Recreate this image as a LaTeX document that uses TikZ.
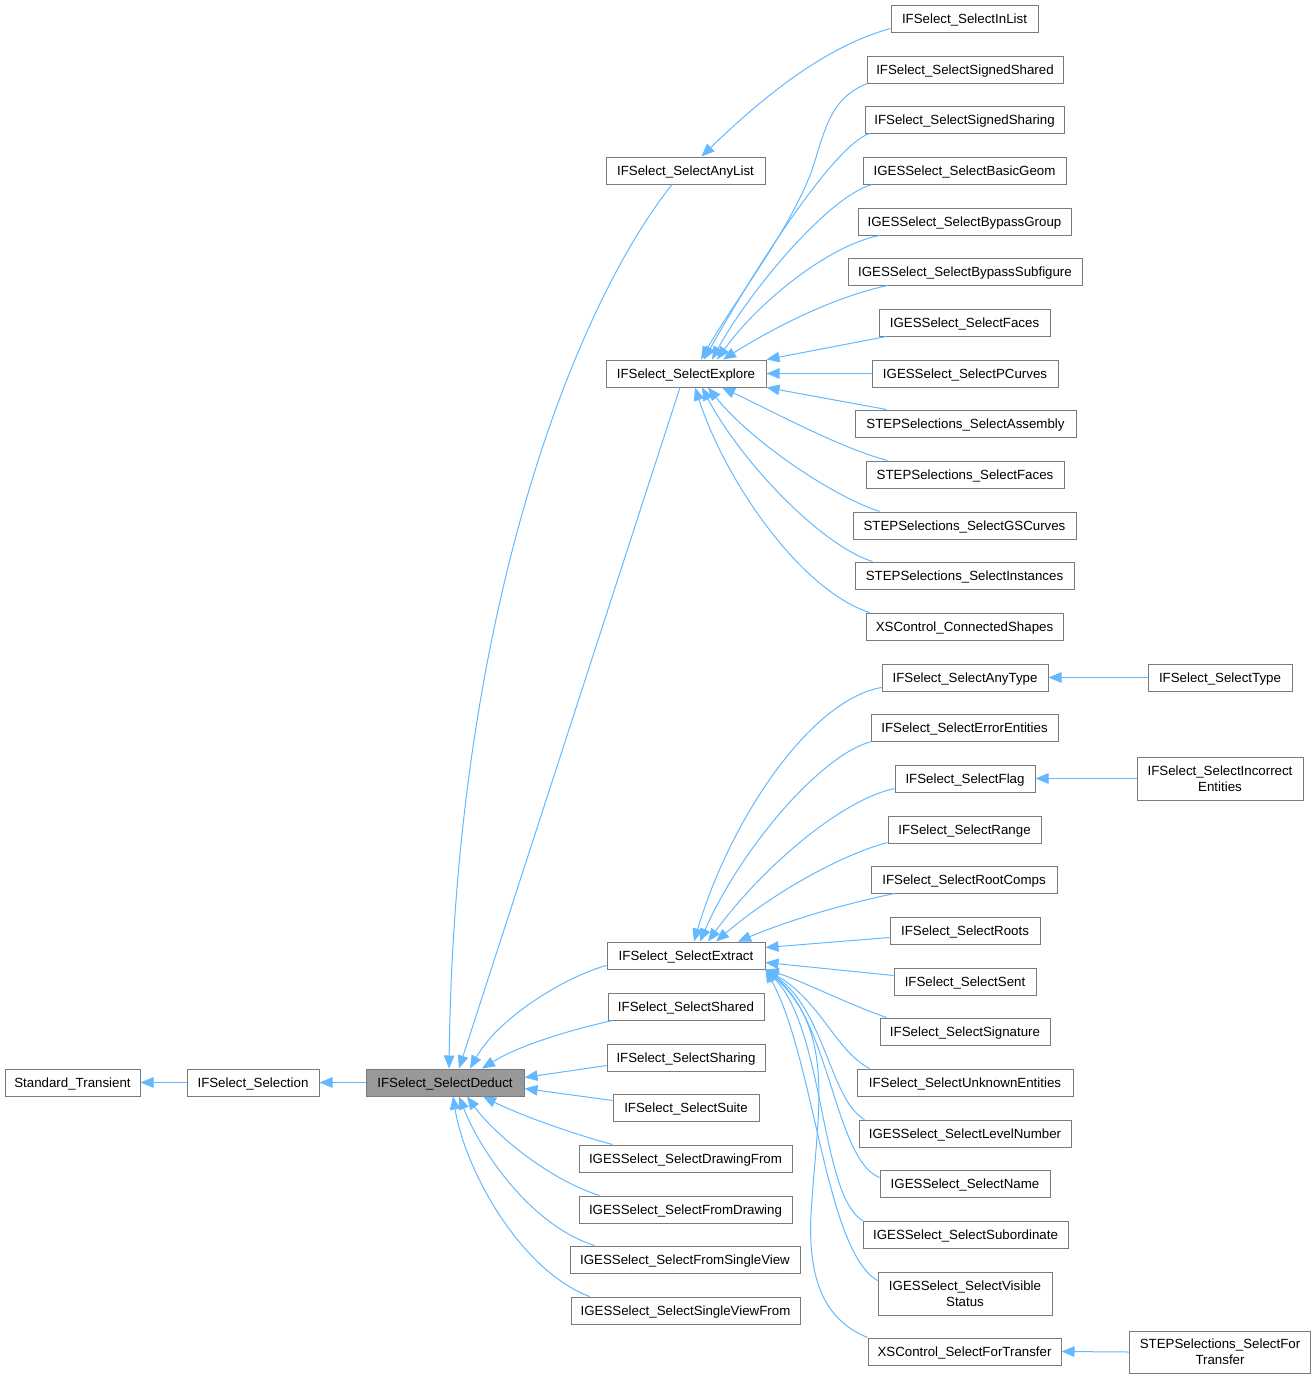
\documentclass[tikz,border=0pt]{standalone}
\usepackage{fontspec}
\newfontfamily\nodefont{Liberation Sans}
\usetikzlibrary{arrows.meta}
\definecolor{edgeblue}{HTML}{63B8FF}
\definecolor{boxgray}{HTML}{7A7A7A}
\definecolor{curfill}{HTML}{999999}
\begin{document}
\begin{tikzpicture}[x=1pt,y=-1pt,
  boxbase/.style={draw=boxgray, fill=white, line width=1pt, minimum height=27pt,
    inner sep=0pt, font={\nodefont\fontsize{13.3}{16}\selectfont}},
  box/.style={boxbase, text height=10.5pt, text depth=1pt},
  box2/.style={boxbase, align=center},
  edge/.style={draw=edgeblue, line width=1pt, -{Triangle[length=13pt,width=10.5pt]}}]
\useasboundingbox (0,0) rectangle (1316,1379);
% left chain
\node[box, minimum width=135pt] (st) at (72.5,1082.5) {Standard\_Transient};
\node[box, minimum width=132pt] (sel) at (253,1082.5) {IFSelect\_Selection};
\node[box, minimum width=158pt, fill=curfill] (ded) at (445,1082.5) {IFSelect\_SelectDeduct};
% column 2
\node[box, minimum width=159pt] (anylist) at (685.5,170.5) {IFSelect\_SelectAnyList};
\node[box, minimum width=160pt] (explore) at (686,373.5) {IFSelect\_SelectExplore};
\node[box, minimum width=158pt] (extract) at (686,955.5) {IFSelect\_SelectExtract};
\node[box, minimum width=156pt] (shared) at (686,1006.5) {IFSelect\_SelectShared};
\node[box, minimum width=158pt] (sharing) at (686,1057.5) {IFSelect\_SelectSharing};
\node[box, minimum width=146pt] (suite) at (686,1107.5) {IFSelect\_SelectSuite};
\node[box, minimum width=213pt] (drawfrom) at (685.5,1158.5) {IGESSelect\_SelectDrawingFrom};
\node[box, minimum width=213pt] (fromdraw) at (685.5,1209.5) {IGESSelect\_SelectFromDrawing};
\node[box, minimum width=230pt] (fromsv) at (685,1259.5) {IGESSelect\_SelectFromSingleView};
\node[box, minimum width=229pt] (svfrom) at (685.5,1310.5) {IGESSelect\_SelectSingleViewFrom};
% column 3
\node[box, minimum width=147pt] (inlist) at (964.5,18.5) {IFSelect\_SelectInList};
\node[box, minimum width=196pt] (sigshared) at (965,69.5) {IFSelect\_SelectSignedShared};
\node[box, minimum width=199pt] (sigsharing) at (964.5,119.5) {IFSelect\_SelectSignedSharing};
\node[box, minimum width=203pt] (basicgeom) at (964.5,170.5) {IGESSelect\_SelectBasicGeom};
\node[box, minimum width=213pt] (bypassgroup) at (964.5,221.5) {IGESSelect\_SelectBypassGroup};
\node[box, minimum width=234pt] (bypasssub) at (965,271.5) {IGESSelect\_SelectBypassSubfigure};
\node[box, minimum width=171pt] (igesfaces) at (964.5,322.5) {IGESSelect\_SelectFaces};
\node[box, minimum width=186pt] (pcurves) at (965,373.5) {IGESSelect\_SelectPCurves};
\node[box, minimum width=221pt] (assembly) at (965.5,423.5) {STEPSelections\_SelectAssembly};
\node[box, minimum width=198pt] (stepfaces) at (965,474.5) {STEPSelections\_SelectFaces};
\node[box, minimum width=223pt] (gscurves) at (964.5,525.5) {STEPSelections\_SelectGSCurves};
\node[box, minimum width=219pt] (instances) at (964.5,575.5) {STEPSelections\_SelectInstances};
\node[box, minimum width=197pt] (connshapes) at (964.5,626.5) {XSControl\_ConnectedShapes};
\node[box, minimum width=166pt] (anytype) at (965,677.5) {IFSelect\_SelectAnyType};
\node[box, minimum width=187pt] (errent) at (964.5,727.5) {IFSelect\_SelectErrorEntities};
\node[box, minimum width=140pt] (flag) at (965,778.5) {IFSelect\_SelectFlag};
\node[box, minimum width=153pt] (range) at (964.5,829.5) {IFSelect\_SelectRange};
\node[box, minimum width=186pt] (rootcomps) at (964,879.5) {IFSelect\_SelectRootComps};
\node[box, minimum width=150pt] (roots) at (965,930.5) {IFSelect\_SelectRoots};
\node[box, minimum width=142pt] (sent) at (965,981.5) {IFSelect\_SelectSent};
\node[box, minimum width=170pt] (signature) at (965,1031.5) {IFSelect\_SelectSignature};
\node[box, minimum width=216pt] (unknown) at (965,1082.5) {IFSelect\_SelectUnknownEntities};
\node[box, minimum width=212pt] (levelnum) at (965,1133.5) {IGESSelect\_SelectLevelNumber};
\node[box, minimum width=170pt] (name) at (965,1183.5) {IGESSelect\_SelectName};
\node[box, minimum width=205pt] (subord) at (965.5,1234.5) {IGESSelect\_SelectSubordinate};
\node[box2, minimum width=174pt, minimum height=43pt] (visible) at (965,1293.5) {IGESSelect\_SelectVisible\\Status};
\node[box, minimum width=193pt] (xsfortransfer) at (964.5,1351.5) {XSControl\_SelectForTransfer};
% column 4
\node[box, minimum width=144pt] (seltype) at (1220,677.5) {IFSelect\_SelectType};
\node[box2, minimum width=166pt, minimum height=43pt] (incorrect) at (1220,778.5) {IFSelect\_SelectIncorrect\\Entities};
\node[box2, minimum width=181pt, minimum height=42pt] (stepfortransfer) at (1220,1352) {STEPSelections\_SelectFor\\Transfer};
% chain edges
\draw[edge] (sel.west) -- (st.east);
\draw[edge] (ded.west) -- (sel.east);
% edges to Deduct
\draw[edge] ([xshift=-13.5pt]anylist.south) .. controls (580,300) and (455,600) .. ([xshift=4pt]ded.north);
\draw[edge] ([xshift=-6pt]explore.south) -- ([xshift=14pt]ded.north);
\draw[edge] ([yshift=-10pt]extract.west) .. controls (570,975) and (500,1015) .. ([xshift=25pt]ded.north);
\draw[edge] ([xshift=5pt]shared.south west) .. controls (570,1030) and (520,1045) .. ([xshift=37pt]ded.north);
\draw[edge] ([yshift=-8pt]sharing.west) -- ([yshift=5pt]ded.east);
\draw[edge] ([yshift=7pt]suite.west) -- ([yshift=-6pt]ded.east);
\draw[edge] ([xshift=34pt]drawfrom.north west) .. controls (570,1133) and (520,1115) .. ([xshift=38pt]ded.south);
\draw[edge] ([xshift=21pt]fromdraw.north west) .. controls (550,1180) and (495,1135) .. ([xshift=22pt]ded.south);
\draw[edge] ([xshift=25pt]fromsv.north west) .. controls (530,1225) and (480,1150) .. ([xshift=14pt]ded.south);
\draw[edge] ([xshift=19pt]svfrom.north west) .. controls (520,1270) and (465,1170) .. ([xshift=8pt]ded.south);
% edge to AnyList
\draw[edge] ([yshift=-10pt]inlist.west) .. controls (830,45) and (770,90) .. ([xshift=16pt]anylist.north);
% edges to Explore
\draw[edge] ([xshift=1pt]sigshared.south west) .. controls (830,98) and (825,130) .. (812,170) .. controls (790,230) and (735,300) .. ([xshift=15pt]explore.north);
\draw[edge] ([xshift=5pt]sigsharing.south west) .. controls (835,145) and (760,260) .. ([xshift=18pt]explore.north);
\draw[edge] ([xshift=10pt]basicgeom.south west) .. controls (830,195) and (750,290) .. ([xshift=26pt]explore.north);
\draw[edge] ([xshift=22pt]bypassgroup.south west) .. controls (830,245) and (760,300) .. ([xshift=31pt]explore.north);
\draw[edge] ([xshift=40pt]bypasssub.south west) .. controls (830,298) and (770,330) .. ([xshift=37pt]explore.north);
\draw[edge] ([xshift=8pt]igesfaces.south west) -- (explore.north east);
\draw[edge] (pcurves.west) -- (explore.east);
\draw[edge] ([xshift=32pt]assembly.north west) -- (explore.south east);
\draw[edge] ([xshift=22pt]stepfaces.north west) .. controls (840,448) and (770,410) .. ([xshift=36pt]explore.south);
\draw[edge] ([xshift=27pt]gscurves.north west) .. controls (830,495) and (750,440) .. ([xshift=22pt]explore.south);
\draw[edge] ([xshift=18pt]instances.north west) .. controls (820,545) and (740,460) .. ([xshift=16pt]explore.south);
\draw[edge] ([xshift=4pt]connshapes.north west) .. controls (800,590) and (725,480) .. ([xshift=9pt]explore.south);
% edges to Extract
\draw[edge] ([yshift=4pt]anytype.south west) .. controls (810,700) and (730,820) .. ([xshift=8pt]extract.north);
\draw[edge] ([xshift=1pt]errent.south west) .. controls (820,755) and (740,850) .. ([xshift=14pt]extract.north);
\draw[edge] ([yshift=4pt]flag.south west) .. controls (840,800) and (760,870) .. ([xshift=22pt]extract.north);
\draw[edge] ([yshift=1pt]range.south west) .. controls (840,855) and (770,895) .. ([xshift=30pt]extract.north);
\draw[edge] ([xshift=24pt]rootcomps.south west) .. controls (840,905) and (790,920) .. ([xshift=52pt]extract.north);
\draw[edge] ([yshift=-7pt]roots.west) -- ([yshift=8pt]extract.east);
\draw[edge] ([yshift=6pt]sent.west) -- ([yshift=-7pt]extract.east);
\draw[edge] ([xshift=7pt]signature.north west) .. controls (850,1005) and (800,980) .. (extract.south east);
\draw[edge] ([xshift=13pt]unknown.north west) .. controls (835,1050) and (820,1000) .. (extract.south east);
\draw[edge] ([xshift=6pt]levelnum.north west) .. controls (830,1100) and (825,1010) .. (extract.south east);
\draw[edge] ([yshift=6pt]name.west) .. controls (835,1160) and (830,1020) .. (extract.south east);
\draw[edge] (subord.north west) .. controls (820,1195) and (825,1030) .. (extract.south east);
\draw[edge] ([yshift=13pt]visible.west) .. controls (825,1250) and (815,1060) .. (extract.south east);
\draw[edge] (xsfortransfer.north west) .. controls (825,1320) and (805,1280) .. (812,1200) .. controls (818,1110) and (835,1030) .. (extract.south east);
% column 4 edges
\draw[edge] (seltype.west) -- (anytype.east);
\draw[edge] (incorrect.west) -- (flag.east);
\draw[edge] (stepfortransfer.west) -- (xsfortransfer.east);
\end{tikzpicture}
\end{document}
